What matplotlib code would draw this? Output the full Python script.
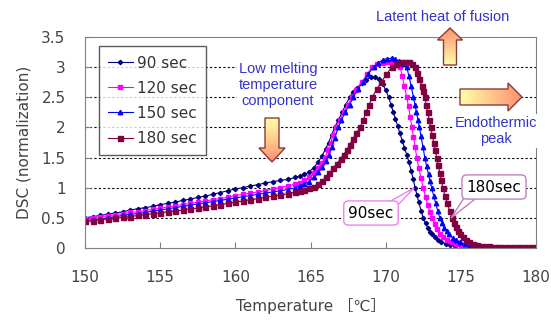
import numpy as np
import matplotlib
matplotlib.use("Agg")
import matplotlib.pyplot as plt
from matplotlib.patches import FancyArrow, Polygon
from matplotlib.colors import LinearSegmentedColormap

# shared low-temperature grid (150 .. 164, every 0.5 degC)
t_low = [150.0, 150.5, 151.0, 151.5, 152.0, 152.5, 153.0, 153.5, 154.0, 154.5,
         155.0, 155.5, 156.0, 156.5, 157.0, 157.5, 158.0, 158.5, 159.0, 159.5,
         160.0, 160.5, 161.0, 161.5, 162.0, 162.5, 163.0, 163.5, 164.0]

low_90 = [0.50, 0.52, 0.54, 0.56, 0.58, 0.60, 0.63, 0.65, 0.67, 0.69,
          0.72, 0.74, 0.76, 0.79, 0.81, 0.84, 0.86, 0.89, 0.92, 0.95,
          0.98, 1.00, 1.03, 1.05, 1.08, 1.10, 1.12, 1.14, 1.17]
low_120 = [0.48, 0.50, 0.52, 0.53, 0.55, 0.57, 0.59, 0.60, 0.62, 0.64,
           0.66, 0.68, 0.70, 0.72, 0.74, 0.76, 0.78, 0.80, 0.82, 0.84,
           0.87, 0.89, 0.91, 0.93, 0.95, 0.98, 1.00, 1.03, 1.06]
low_150 = [0.45, 0.47, 0.48, 0.50, 0.52, 0.54, 0.56, 0.57, 0.59, 0.61,
           0.63, 0.65, 0.67, 0.69, 0.71, 0.73, 0.75, 0.77, 0.79, 0.81,
           0.83, 0.85, 0.87, 0.89, 0.91, 0.93, 0.95, 0.97, 1.00]
low_180 = [0.44, 0.45, 0.47, 0.48, 0.49, 0.51, 0.52, 0.54, 0.55, 0.57,
           0.58, 0.60, 0.61, 0.63, 0.65, 0.66, 0.68, 0.70, 0.72, 0.74,
           0.76, 0.78, 0.80, 0.82, 0.84, 0.86, 0.88, 0.90, 0.93]

# melting region, per series
t_90 = [164.3, 164.6, 164.9, 165.2, 165.5, 165.75, 166.0, 166.2, 166.4, 166.6,
        166.85, 167.1, 167.35, 167.6, 167.85, 168.1, 168.4, 168.7, 169.0, 169.3,
        169.55, 169.8, 170.0, 170.2, 170.35, 170.5, 170.65, 170.8, 170.95, 171.1,
        171.25, 171.4, 171.55, 171.7, 171.83, 171.96, 172.08, 172.2, 172.35, 172.5,
        172.65, 172.8, 172.95, 173.1, 173.3, 173.5, 173.7, 174.0, 174.3, 174.6,
        175.0, 175.5, 176.0, 176.5, 177.0, 177.5, 178.0, 178.5, 179.0, 179.5, 180.0]
d_90 = [1.19, 1.22, 1.26, 1.33, 1.42, 1.52, 1.64, 1.75, 1.87, 2.00,
        2.12, 2.25, 2.38, 2.50, 2.59, 2.66, 2.73, 2.79, 2.83, 2.84,
        2.80, 2.72, 2.62, 2.50, 2.38, 2.26, 2.14, 2.02, 1.90, 1.78,
        1.66, 1.55, 1.42, 1.28, 1.14, 1.00, 0.88, 0.76, 0.62, 0.50,
        0.41, 0.33, 0.27, 0.23, 0.18, 0.13, 0.10, 0.07, 0.05, 0.04,
        0.03, 0.02, 0.01, 0.01, 0.01, 0.00, 0.00, 0.00, 0.00, 0.00, 0.00]

t_120 = [164.3, 164.6, 164.9, 165.2, 165.5, 165.75, 165.97, 166.15, 166.35, 166.5,
         166.7, 166.95, 167.2, 167.5, 167.75, 168.05, 168.4, 168.75, 169.1, 169.45,
         169.8, 170.1, 170.4, 170.7, 170.96, 171.1, 171.25, 171.4, 171.52, 171.63,
         171.75, 171.85, 171.96, 172.07, 172.2, 172.35, 172.5, 172.65, 172.8, 172.95,
         173.1, 173.25, 173.4, 173.6, 173.8, 174.1, 174.4, 174.7, 175.06, 175.5,
         176.0, 176.5, 177.0, 177.5, 178.0, 178.5, 179.0, 179.5, 180.0]
d_120 = [1.08, 1.12, 1.17, 1.24, 1.32, 1.41, 1.50, 1.62, 1.75, 1.87,
         2.00, 2.12, 2.25, 2.38, 2.50, 2.62, 2.75, 2.88, 3.00, 3.05,
         3.07, 3.08, 3.07, 3.04, 3.00, 2.86, 2.68, 2.50, 2.35, 2.18,
         2.00, 1.84, 1.67, 1.50, 1.33, 1.16, 1.00, 0.85, 0.71, 0.60,
         0.50, 0.40, 0.32, 0.24, 0.18, 0.13, 0.10, 0.06, 0.04, 0.03,
         0.02, 0.01, 0.01, 0.01, 0.00, 0.00, 0.00, 0.00, 0.00]

t_150 = [164.3, 164.6, 164.9, 165.2, 165.5, 165.75, 166.0, 166.2, 166.4, 166.6,
         166.85, 167.05, 167.3, 167.6, 167.85, 168.15, 168.5, 168.85, 169.2, 169.5,
         169.8, 170.1, 170.4, 170.65, 170.9, 171.15, 171.4, 171.55, 171.7, 171.85,
         171.95, 172.05, 172.15, 172.25, 172.35, 172.48, 172.6, 172.72, 172.85, 172.95,
         173.06, 173.2, 173.33, 173.46, 173.6, 173.75, 173.9, 174.05, 174.2, 174.45,
         174.7, 174.95, 175.25, 175.6, 176.0, 176.5, 177.0, 177.5, 178.0, 178.5,
         179.0, 179.5, 180.0]
d_150 = [1.03, 1.06, 1.10, 1.17, 1.26, 1.35, 1.44, 1.55, 1.68, 1.82,
         2.00, 2.12, 2.25, 2.38, 2.50, 2.63, 2.76, 2.89, 3.00, 3.07,
         3.12, 3.14, 3.15, 3.13, 3.10, 3.06, 3.00, 2.85, 2.68, 2.50,
         2.37, 2.25, 2.12, 2.00, 1.85, 1.68, 1.50, 1.36, 1.22, 1.11,
         1.00, 0.86, 0.74, 0.62, 0.50, 0.41, 0.34, 0.28, 0.24, 0.17,
         0.13, 0.10, 0.07, 0.04, 0.03, 0.02, 0.01, 0.01, 0.00, 0.00,
         0.00, 0.00, 0.00]

t_180 = [164.3, 164.6, 164.9, 165.2, 165.5, 165.75, 166.0, 166.25, 166.5, 166.75,
         167.0, 167.2, 167.4, 167.6, 167.8, 168.05, 168.3, 168.5, 168.7, 168.9,
         169.1, 169.4, 169.7, 170.05, 170.4, 170.7, 171.0, 171.3, 171.55, 171.75,
         171.96, 172.1, 172.25, 172.4, 172.5, 172.6, 172.7, 172.8, 172.9, 173.0,
         173.1, 173.2, 173.3, 173.4, 173.5, 173.6, 173.7, 173.8, 173.95, 174.1,
         174.25, 174.4, 174.55, 174.7, 174.82, 174.95, 175.15, 175.35, 175.55, 175.8,
         176.1, 176.5, 176.9, 177.3, 177.7, 178.1, 178.5, 178.9, 179.3, 179.7, 180.0]
d_180 = [0.95, 0.97, 0.99, 1.02, 1.06, 1.11, 1.17, 1.24, 1.32, 1.40,
         1.48, 1.55, 1.62, 1.71, 1.80, 1.90, 2.00, 2.12, 2.25, 2.37,
         2.50, 2.63, 2.75, 2.88, 3.00, 3.05, 3.08, 3.09, 3.08, 3.05,
         3.00, 2.90, 2.80, 2.68, 2.60, 2.50, 2.38, 2.25, 2.12, 2.00,
         1.87, 1.75, 1.62, 1.50, 1.37, 1.25, 1.12, 1.00, 0.87, 0.75,
         0.62, 0.50, 0.42, 0.35, 0.29, 0.24, 0.18, 0.13, 0.10, 0.07,
         0.05, 0.04, 0.03, 0.02, 0.02, 0.02, 0.02, 0.02, 0.02, 0.02, 0.02]

labels = ["90 sec", "120 sec", "150 sec", "180 sec"]
colors = ["#000080", "#FF00FF", "#0000FF", "#800040"]
markers = ["D", "s", "^", "s"]
msizes = [2.2, 2.6, 3.2, 3.6]

series = [(t_low + t_90, low_90 + d_90),
          (t_low + t_120, low_120 + d_120),
          (t_low + t_150, low_150 + d_150),
          (t_low + t_180, low_180 + d_180)]

fig = plt.figure(figsize=(5.51, 3.2), dpi=100)
ax = fig.add_axes([85 / 551, 72 / 320, 451 / 551, 211 / 320])

for (x, y), lab, c, m, ms in zip(series, labels, colors, markers, msizes):
    ax.plot(x, y, color=c, lw=0.8, marker=m, ms=ms, mec=c, mfc=c, label=lab)

ax.set_xlim(150, 180)
ax.set_ylim(0, 3.5)
ax.set_xticks([150, 155, 160, 165, 170, 175, 180])
ax.set_yticks([0, 0.5, 1, 1.5, 2, 2.5, 3, 3.5])
ax.set_yticklabels(["0", "0.5", "1", "1.5", "2", "2.5", "3", "3.5"])
ax.tick_params(direction="in", length=4, color="#808080", labelsize=11,
               labelcolor="#444444")
ax.tick_params(axis="x", pad=16)
ax.tick_params(axis="y", pad=14)
for s in ax.spines.values():
    s.set_color("#808080")
for yv in [0.5, 1, 1.5, 2, 2.5, 3]:
    ax.axhline(yv, color="black", lw=0.8, ls=(0, (2, 2)), zorder=0)

ax.set_ylabel("DSC (normalization)", fontsize=11, color="#444444", labelpad=7)
ax.set_xlabel("Temperature ［℃］", fontsize=11, color="#444444", labelpad=9,
              family=["DejaVu Sans", "Noto Sans CJK JP"])

leg = ax.legend(loc="upper left", bbox_to_anchor=(0.031, 0.955), borderaxespad=0,
                fontsize=11, frameon=True, fancybox=False, handlelength=1.6,
                handletextpad=0.3, labelspacing=0.66, borderpad=0.6)
leg.get_frame().set_edgecolor("#333333")
leg.get_frame().set_linewidth(1.0)
for t in leg.get_texts():
    t.set_color("#333333")

# overlay in pixel coordinates for arrows and notes
ov = fig.add_axes([0, 0, 1, 1], facecolor="none")
ov.set_xlim(0, 551)
ov.set_ylim(320, 0)
ov.axis("off")

cmap = LinearSegmentedColormap.from_list("ya", ["#FFFFA8", "#FF9070"])


def grad_arrow(x, y, dx, dy, w, hw, hl):
    p = FancyArrow(x, y, dx, dy, width=w, head_width=hw, head_length=hl,
                   length_includes_head=True, fc="none", ec="#8B3A3A", lw=1.0,
                   zorder=5)
    ov.add_patch(p)
    x0, x1 = min(x, x + dx) - hw, max(x, x + dx) + hw
    y0, y1 = min(y, y + dy) - hw, max(y, y + dy) + hw
    X, Y = np.meshgrid(np.linspace(x0, x1, 60), np.linspace(y0, y1, 60))
    g = ((X - x) * dx + (Y - y) * dy) / (dx * dx + dy * dy)
    im = ov.imshow(np.clip(g, 0, 1), extent=(x0, x1, y0, y1), origin="lower",
                   cmap=cmap, vmin=0, vmax=1, aspect="auto", zorder=4)
    im.set_clip_path(p)


grad_arrow(272, 118, 0, 44, 14, 26, 14)
grad_arrow(450, 65, 0, -37, 13, 25, 12)
grad_arrow(460, 97, 62, 0, 16, 28, 14)
ov.set_xlim(0, 551)
ov.set_ylim(320, 0)

note = dict(color="#3333CC", fontsize=10.5, family="Liberation Sans", ha="center",
            va="center", zorder=6)
ov.text(278, 85, "Low melting\ntemperature\ncomponent", linespacing=1.2,
        bbox=dict(fc="white", ec="none", pad=1), **note)
ov.text(443, 17, "Latent heat of fusion", **note)
ov.text(496, 131, "Endothermic\npeak", linespacing=1.2,
        bbox=dict(fc="white", ec="none", pad=1), **note)


def callout(label, box_xy, tip, base, ec):
    ov.add_patch(Polygon([base[0], base[1], tip], closed=True, fc="white",
                         ec=ec, lw=1, zorder=7))
    ov.text(box_xy[0], box_xy[1], label, fontsize=11, ha="center", va="center",
            zorder=8, bbox=dict(boxstyle="round,pad=0.3", fc="white", ec=ec, lw=1))


callout("90sec", (371, 213), (414, 188), [(380, 207), (396, 207)], "#F080F0")
callout("180sec", (494, 187), (451, 218), [(468, 192), (484, 192)], "#C080C0")

fig.savefig("out.png", dpi=100)
